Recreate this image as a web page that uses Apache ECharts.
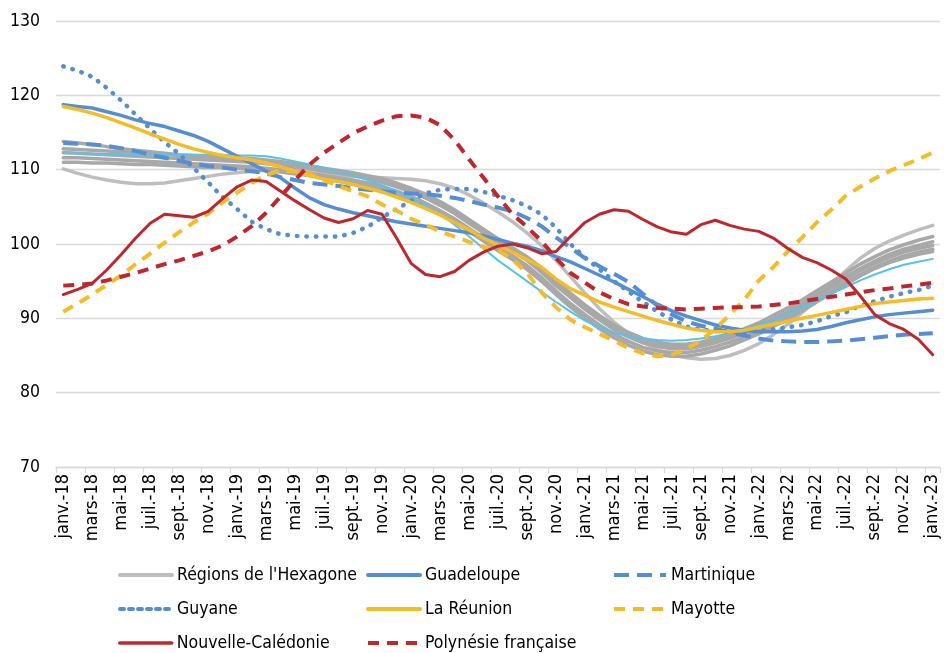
<!DOCTYPE html>
<html>
<head>
<meta charset="utf-8">
<title>Indices régionaux</title>
<script src="https://cdn.jsdelivr.net/npm/echarts@6/dist/echarts.min.js"></script>
<style>
html, body { margin: 0; padding: 0; background: #fff; }
#chart { width: 944px; height: 653px; }
</style>
</head>
<body>
<div id="chart"></div>
<script>
// mois : janv.-18 -> janv.-23
const moisCourts = ['janv.', 'févr.', 'mars', 'avr.', 'mai', 'juin', 'juil.', 'août', 'sept.', 'oct.', 'nov.', 'déc.']
const annees = ['18', '19', '20', '21', '22', '23']
const mois = []
annees.forEach(a => moisCourts.forEach(m => { if (mois.length < 61) mois.push(m + '-' + a) }))

// régions de l'Hexagone (faisceau gris)
const hexA = [113.8, 113.6, 113.4, 113.1, 112.8, 112.6, 112.4, 112.2, 112.0, 111.9,
  111.8, 111.7, 111.6, 111.5, 111.3, 111.1, 110.8, 110.5, 110.2, 109.9,
  109.6, 109.2, 108.8, 108.2, 107.5, 106.7, 105.7, 104.6, 103.3, 102.0,
  100.7, 99.5, 98.3, 96.8, 95.0, 93.4, 91.8, 90.4, 89.1, 88.1,
  87.3, 86.8, 86.5, 86.5, 86.8, 87.3, 87.9, 88.6, 89.4, 90.4,
  91.4, 92.5, 93.7, 94.9, 96.1, 97.3, 98.3, 99.2, 99.9, 100.5, 101.0]
const hexB = [112.8, 112.7, 112.6, 112.5, 112.4, 112.3, 112.2, 112.1, 111.9, 111.8,
  111.7, 111.5, 111.4, 111.3, 111.1, 110.9, 110.6, 110.3, 110.0, 109.7,
  109.3, 108.9, 108.4, 107.8, 107.1, 106.3, 105.3, 104.2, 102.9, 101.6,
  100.3, 99.1, 97.9, 96.4, 94.6, 93.0, 91.4, 90.0, 88.7, 87.7,
  86.9, 86.4, 86.1, 86.1, 86.4, 86.9, 87.5, 88.2, 89.0, 89.9,
  90.9, 92.0, 93.2, 94.4, 95.6, 96.7, 97.7, 98.6, 99.3, 99.8, 100.3]
const hexC = [112.3, 112.2, 112.1, 112.0, 111.9, 111.8, 111.7, 111.6, 111.5, 111.4,
  111.3, 111.2, 111.1, 111.0, 110.8, 110.6, 110.3, 110.1, 109.8, 109.5,
  109.2, 108.8, 108.3, 107.7, 107.0, 106.2, 105.2, 104.1, 102.8, 101.5,
  100.2, 99.0, 97.8, 96.2, 94.4, 92.8, 91.2, 89.8, 88.5, 87.5,
  86.7, 86.2, 85.9, 85.9, 86.2, 86.7, 87.3, 88.0, 88.8, 89.7,
  90.7, 91.8, 92.9, 94.1, 95.3, 96.4, 97.4, 98.2, 98.9, 99.4, 99.8]
const hexD = [111.6, 111.6, 111.5, 111.4, 111.3, 111.2, 111.1, 111.0, 110.9, 110.8,
  110.7, 110.6, 110.5, 110.4, 110.2, 110.0, 109.8, 109.5, 109.2, 108.9,
  108.6, 108.2, 107.7, 107.1, 106.4, 105.5, 104.5, 103.4, 102.1, 100.8,
  99.6, 98.4, 97.1, 95.5, 93.7, 92.0, 90.5, 89.1, 87.9, 86.9,
  86.1, 85.6, 85.4, 85.4, 85.7, 86.2, 86.8, 87.5, 88.3, 89.2,
  90.2, 91.3, 92.4, 93.6, 94.8, 95.9, 96.9, 97.7, 98.4, 98.9, 99.3]
const hexE = [111.0, 111.0, 110.9, 110.9, 110.8, 110.7, 110.7, 110.6, 110.5, 110.4,
  110.3, 110.3, 110.2, 110.1, 109.9, 109.7, 109.4, 109.2, 108.9, 108.6,
  108.2, 107.8, 107.3, 106.7, 106.0, 105.1, 104.1, 103.0, 101.7, 100.4,
  99.1, 97.9, 96.6, 95.0, 93.2, 91.5, 90.0, 88.6, 87.4, 86.4,
  85.6, 85.1, 84.9, 84.9, 85.2, 85.7, 86.3, 87.1, 87.9, 88.9,
  89.9, 91.0, 92.2, 93.4, 94.6, 95.7, 96.7, 97.5, 98.1, 98.6, 99.0]
const hexF = [110.1, 109.5, 109.0, 108.6, 108.3, 108.1, 108.1, 108.2, 108.5, 108.8,
  109.1, 109.4, 109.6, 109.8, 109.9, 109.9, 109.8, 109.6, 109.4, 109.2,
  109.1, 109.0, 108.9, 108.8, 108.7, 108.5, 108.1, 107.5, 106.6, 105.5,
  104.3, 103.0, 101.5, 99.8, 97.8, 95.6, 93.4, 91.3, 89.5, 88.0,
  86.8, 85.8, 85.1, 84.7, 84.5, 84.6, 85.0, 85.7, 86.6, 87.8,
  89.2, 90.8, 92.6, 94.5, 96.4, 98.1, 99.4, 100.4, 101.2, 101.9, 102.5]
const hexBleu = [112.2, 112.2, 112.1, 112.1, 112.1, 112.0, 112.0, 112.0, 112.0, 112.0,
  112.0, 112.0, 111.9, 111.9, 111.8, 111.5, 111.1, 110.7, 110.2, 109.7,
  109.2, 108.6, 107.9, 107.1, 106.2, 105.2, 104.0, 102.6, 101.0, 99.4,
  97.8, 96.4, 95.0, 93.6, 92.2, 90.9, 89.7, 88.8, 88.1, 87.6,
  87.3, 87.1, 87.0, 87.1, 87.3, 87.6, 88.0, 88.5, 89.1, 89.8,
  90.6, 91.5, 92.4, 93.3, 94.2, 95.1, 95.9, 96.6, 97.2, 97.6, 98.0]

// outre-mer
const guadeloupe = [118.75, 118.5, 118.3, 117.8, 117.3, 116.7, 116.2, 115.8, 115.2, 114.6,
  113.8, 112.8, 111.8, 110.8, 109.8, 108.9, 107.5, 106.2, 105.3, 104.7,
  104.2, 103.8, 103.4, 103.0, 102.7, 102.4, 102.1, 101.8, 101.5, 101.1,
  100.6, 100.1, 99.7, 99.1, 98.3, 97.6, 96.7, 95.8, 94.9, 93.9,
  92.9, 91.9, 91.0, 90.3, 89.7, 89.1, 88.7, 88.4, 88.2, 88.2,
  88.2, 88.3, 88.5, 88.9, 89.4, 89.8, 90.2, 90.5, 90.7, 90.9, 91.1]
const martinique = [113.6, 113.5, 113.4, 113.2, 112.9, 112.5, 112.0, 111.6, 111.2, 110.8,
  110.5, 110.3, 110.0, 109.8, 109.5, 109.0, 108.6, 108.2, 108.0, 107.8,
  107.5, 107.3, 107.1, 106.9, 106.8, 106.7, 106.5, 106.2, 105.8, 105.3,
  104.9, 104.4, 103.5, 102.4, 100.9, 99.5, 98.1, 97.0, 96.0, 94.9,
  93.3, 91.7, 90.5, 89.6, 89.0, 88.6, 88.1, 87.7, 87.3, 87.0,
  86.9, 86.8, 86.8, 86.9, 87.0, 87.2, 87.4, 87.6, 87.8, 87.9, 88.0]
const guyane = [123.9, 123.3, 122.5, 121.0, 119.3, 117.4, 115.5, 113.7, 112.1, 110.2,
  108.3, 106.3, 104.7, 103.0, 102.0, 101.3, 101.1, 101.0, 101.0, 101.0,
  101.5, 102.3, 103.6, 104.7, 105.8, 106.8, 107.3, 107.4, 107.4, 107.0,
  106.5, 105.9, 105.1, 104.0, 102.2, 100.0, 98.2, 96.6, 95.0, 93.6,
  92.2, 90.9, 89.8, 88.9, 88.5, 88.3, 88.2, 88.2, 88.3, 88.5,
  88.8, 89.1, 89.6, 90.3, 90.8, 91.7, 92.3, 92.9, 93.4, 93.8, 94.4]
const reunion = [118.5, 118.1, 117.6, 117.0, 116.3, 115.6, 114.8, 114.1, 113.4, 112.8,
  112.3, 111.9, 111.6, 111.3, 110.9, 110.4, 109.7, 109.2, 108.7, 108.4,
  108.0, 107.5, 107.0, 106.3, 105.6, 104.8, 103.9, 102.9, 101.9, 100.8,
  99.8, 98.9, 97.9, 96.9, 95.3, 94.0, 93.1, 92.2, 91.5, 90.9,
  90.3, 89.7, 89.2, 88.7, 88.4, 88.2, 88.2, 88.4, 88.8, 89.2,
  89.6, 90.0, 90.4, 90.8, 91.2, 91.6, 92.0, 92.2, 92.4, 92.6, 92.7]
const mayotte = [90.9, 92.0, 93.2, 94.5, 95.8, 97.3, 98.7, 100.2, 101.6, 102.9,
  104.1, 105.6, 106.9, 108.2, 109.3, 109.9, 109.8, 109.4, 108.6, 107.8,
  107.1, 106.4, 105.3, 104.5, 103.4, 102.6, 101.7, 101.0, 100.3, 99.6,
  99.2, 97.9, 96.1, 93.5, 91.5, 89.8, 88.8, 87.9, 87.0, 86.0,
  85.3, 84.9, 85.1, 85.9, 87.0, 88.6, 90.5, 92.5, 95.1, 96.9,
  99.0, 100.9, 102.9, 104.6, 106.5, 107.7, 108.8, 109.8, 110.6, 111.4, 112.3]
const caledonie = [93.2, 93.9, 94.7, 96.5, 98.6, 100.8, 102.8, 104.0, 103.8, 103.6,
  104.4, 106.1, 107.7, 108.6, 108.4, 107.1, 105.8, 104.6, 103.5, 102.9,
  103.4, 104.5, 104.0, 100.8, 97.4, 95.9, 95.6, 96.3, 97.8, 98.9,
  99.7, 100.0, 99.5, 98.7, 99.0, 101.0, 102.9, 104.0, 104.6, 104.4,
  103.3, 102.3, 101.6, 101.3, 102.6, 103.2, 102.5, 102.0, 101.7, 100.8,
  99.4, 98.2, 97.5, 96.5, 95.3, 93.0, 90.5, 89.3, 88.5, 87.2, 85.1]
const polynesie = [94.4, 94.5, 94.7, 95.1, 95.6, 96.1, 96.7, 97.3, 97.8, 98.4,
  99.0, 99.8, 101.0, 102.4, 104.2, 106.4, 108.6, 110.7, 112.3, 113.6,
  114.9, 115.8, 116.6, 117.2, 117.3, 117.0, 116.0, 114.0, 111.4, 108.9,
  106.4, 104.0, 102.3, 100.4, 98.1, 96.1, 94.8, 93.5, 92.6, 91.9,
  91.6, 91.4, 91.3, 91.2, 91.3, 91.4, 91.5, 91.5, 91.6, 91.8,
  92.0, 92.3, 92.6, 92.9, 93.2, 93.5, 93.8, 94.0, 94.3, 94.5, 94.8]

const police = "'DejaVu Sans Condensed', 'DejaVu Sans', sans-serif"
const HEX = "Régions de l'Hexagone"

function ligne (name, data, color, width, type, cap) {
  return {
    name: name,
    type: 'line',
    data: data,
    symbol: 'none',
    smooth: false,
    lineStyle: { color: color, width: width, type: type || 'solid', cap: cap || 'round', join: 'round' },
    itemStyle: { color: color },
    emphasis: { disabled: true }
  }
}

const series = [
  ligne(HEX, hexF, '#BEBEBE', 3.5),
  ligne(HEX, hexA, '#A8A8A8', 3.5),
  ligne(HEX, hexB, '#A8A8A8', 3.5),
  ligne(HEX, hexC, '#A8A8A8', 3.5),
  ligne(HEX, hexD, '#A8A8A8', 3.5),
  ligne(HEX, hexE, '#A8A8A8', 3.5),
  ligne('Hexagone (ensemble)', hexBleu, '#56C3EE', 2),
  ligne('Guadeloupe', guadeloupe, '#558ED5', 3.5),
  ligne('Martinique', martinique, '#558ED5', 4, [15, 8], 'butt'),
  ligne('Guyane', guyane, '#558ED5', 4.5, [0.5, 9]),
  ligne('La Réunion', reunion, '#F5BC28', 3.5),
  ligne('Mayotte', mayotte, '#F5BC28', 4, [11, 8], 'butt'),
  ligne('Nouvelle-Calédonie', caledonie, '#C0272D', 3),
  ligne('Polynésie française', polynesie, '#C0272D', 4, [11, 8], 'butt')
]

// une légende par entrée, placée comme dans le tableau 3 colonnes
function legende (left, centre, nom, trait) {
  return {
    orient: 'horizontal',
    left: left,
    top: centre - 10,
    padding: 0,
    itemWidth: 52,
    itemHeight: 20,
    selectedMode: false,
    itemStyle: { opacity: 0 },
    lineStyle: Object.assign({ width: 4 }, trait || {}),
    textStyle: { fontFamily: police, fontSize: 17.5, color: '#000', lineHeight: 20 },
    data: [nom]
  }
}

const chart = echarts.init(document.getElementById('chart'), null, { renderer: 'canvas' })
chart.setOption({
  animation: false,
  backgroundColor: '#fff',
  grid: { left: 56, right: 4, top: 21, bottom: 186, containLabel: false, outerBoundsMode: 'none' },
  legend: [
    legende(118, 575, HEX),
    legende(118, 609, 'Guyane', { type: [4, 5] }),
    legende(118, 643, 'Nouvelle-Calédonie', { width: 3.5 }),
    legende(366, 575, 'Guadeloupe'),
    legende(366, 609, 'La Réunion'),
    legende(366, 643, 'Polynésie française'),
    legende(612, 575, 'Martinique'),
    legende(612, 609, 'Mayotte')
  ],
  xAxis: {
    type: 'category',
    data: mois,
    boundaryGap: true,
    axisLine: { lineStyle: { color: '#D9D9D9', width: 1.3 } },
    axisTick: { show: true, interval: 1, length: 6, lineStyle: { color: '#D9D9D9', width: 1.3 } },
    axisLabel: { interval: 1, rotate: 90, margin: 7, fontFamily: police, fontSize: 18, color: '#000' },
    splitLine: { show: false }
  },
  yAxis: {
    type: 'value',
    min: 70,
    max: 130,
    interval: 10,
    axisLine: { show: false },
    axisTick: { show: false },
    axisLabel: { margin: 16, fontFamily: police, fontSize: 17.5, color: '#000' },
    splitLine: { lineStyle: { color: '#D9D9D9', width: 1.3 } }
  },
  series: series
})
</script>
</body>
</html>
